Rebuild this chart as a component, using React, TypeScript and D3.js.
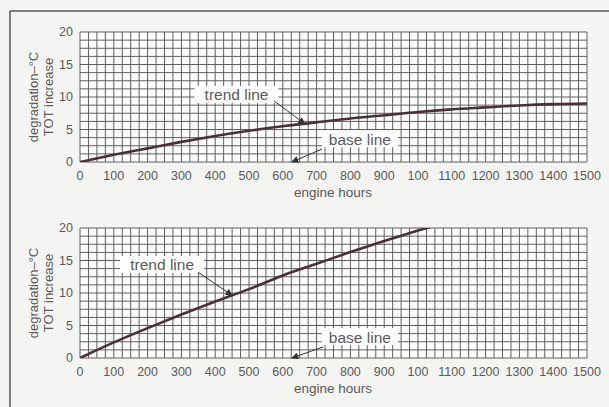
import * as d3 from "d3";

// engine hours along the x axis
const hours = [0, 100, 200, 300, 400, 500, 600, 700, 800, 900, 1000, 1100, 1200, 1300, 1400, 1500];
// tick labels as printed (the "100" at 1000 is in the original)
const xTickLabels = ["0", "100", "200", "300", "400", "500", "600", "700", "800", "900", "100", "1100", "1200", "1300", "1400", "1500"];
const yTicks = [0, 5, 10, 15, 20];

// TOT increase (degradation, deg C)
const slowTrend = [0, 1.1, 2.1, 3.1, 4.0, 4.8, 5.5, 6.1, 6.7, 7.2, 7.7, 8.1, 8.4, 8.7, 8.9, 9.0];
const fastHours = [0, 100, 200, 300, 400, 500, 600, 700, 800, 900, 1000, 1100];
const fastTrend = [0, 2.4, 4.6, 6.7, 8.7, 10.6, 12.7, 14.5, 16.3, 18.0, 19.6, 21.1];

const W = 609;
const H = 407;
const textColor = "#5a5a5a";
const curveColor = "#4d2e3a";
const font = "'Liberation Sans', Arial, sans-serif";

type Note = { text: string; lx: number; ly: number; sx: number; sy: number; tx: number; ty: number | null };

function Panel({ top, bottom, xs, vs, notes, id }: { top: number; bottom: number; xs: number[]; vs: number[]; notes: Note[]; id: string }) {
  const x = d3.scaleLinear().domain([0, 1500]).range([80, 587]);
  const y = d3.scaleLinear().domain([0, 20]).range([bottom, top]);

  const pts: [number, number][] = xs.map((h, i) => [h, vs[i]]);
  const line = d3
    .line<[number, number]>()
    .x((d) => x(d[0]))
    .y((d) => y(d[1]))
    .curve(d3.curveMonotoneX);
  const interp = (h: number) => {
    const i = d3.bisectRight(xs, h) - 1;
    const t = (h - xs[i]) / (xs[i + 1] - xs[i]);
    return vs[i] + t * (vs[i + 1] - vs[i]);
  };

  // grid: 4 columns per 100 hours, 4 rows per 5 deg
  const cols = d3.range(0, 1500 + 0.01, 25);
  const rows = d3.range(0, 20 + 0.01, 1.25);

  return (
    <g>
      <defs>
        <clipPath id={"clip" + id}>
          <rect x={x(0)} y={y(20)} width={x(1500) - x(0)} height={y(0) - y(20)} />
        </clipPath>
      </defs>
      <rect x={x(0)} y={y(20)} width={x(1500) - x(0)} height={y(0) - y(20)} fill="#fff" />
      {cols.map((c, i) => (
        <line key={"c" + i} x1={x(c)} x2={x(c)} y1={y(0)} y2={y(20)} stroke="#5e5e5e" strokeWidth={1} />
      ))}
      {rows.map((r, i) => (
        <line key={"r" + i} x1={x(0)} x2={x(1500)} y1={y(r)} y2={y(r)} stroke="#5e5e5e" strokeWidth={1} />
      ))}
      {yTicks.map((t) => (
        <text key={t} x={73} y={y(t)} dy="0.35em" textAnchor="end" fontSize={12.5} fill={textColor} fontFamily={font}>
          {t}
        </text>
      ))}
      {hours.map((h, i) => (
        <text key={h} x={x(h)} y={bottom + 14} dy="0.35em" textAnchor="middle" fontSize={12.5} fill={textColor} fontFamily={font}>
          {xTickLabels[i]}
        </text>
      ))}
      <text x={333} y={bottom + 30} dy="0.35em" textAnchor="middle" fontSize={13.5} fill={textColor} fontFamily={font}>
        engine hours
      </text>
      <g transform={`translate(33,${(top + bottom) / 2}) rotate(-90)`}>
        <text textAnchor="middle" dy="0.35em" fontSize={13} fill={textColor} fontFamily={font}>
          degradation–°C
        </text>
      </g>
      <g transform={`translate(48,${(top + bottom) / 2}) rotate(-90)`}>
        <text textAnchor="middle" dy="0.35em" fontSize={13} fill={textColor} fontFamily={font}>
          TOT increase
        </text>
      </g>
      <path d={line(pts) || ""} fill="none" stroke={curveColor} strokeWidth={2.6} clipPath={`url(#clip${id})`} />
      {notes.map((n, i) => {
        const tipY = n.ty === null ? interp(n.tx) : n.ty;
        const w = n.text.length * 7.6;
        return (
          <g key={i}>
            <rect x={x(n.lx) - w / 2 - 4} y={y(n.ly) - 9} width={w + 8} height={17} fill="#fff" />
            <text x={x(n.lx)} y={y(n.ly)} dy="0.35em" textAnchor="middle" fontSize={15.5} fill={textColor} fontFamily={font}>
              {n.text}
            </text>
            <line x1={x(n.sx)} y1={y(n.sy)} x2={x(n.tx)} y2={y(tipY)} stroke="#333" strokeWidth={1} markerEnd="url(#arrow)" />
          </g>
        );
      })}
    </g>
  );
}

export default function App() {
  const topNotes: Note[] = [
    { text: "trend line", lx: 463, ly: 10.3, sx: 574, sy: 9.4, tx: 665, ty: null },
    { text: "base line", lx: 828, ly: 3.5, sx: 716, sy: 2.0, tx: 627, ty: 0 },
  ];
  const bottomNotes: Note[] = [
    { text: "trend line", lx: 243, ly: 14.3, sx: 349, sy: 13.2, tx: 450, ty: null },
    { text: "base line", lx: 828, ly: 3.2, sx: 719, sy: 1.7, tx: 627, ty: 0 },
  ];
  return (
    <svg width={W} height={H} style={{ position: "absolute", left: 0, top: 0, display: "block" }}>
      <defs>
        <marker id="arrow" viewBox="0 0 10 10" refX={9} refY={5} markerWidth={8} markerHeight={7} orient="auto" markerUnits="userSpaceOnUse">
          <path d="M0,0 L10,5 L0,10 z" fill="#333" />
        </marker>
      </defs>
      <rect width={W} height={H} fill="#f4f4f2" />
      <line x1={10} y1={11} x2={W} y2={11} stroke="#555" strokeWidth={1.5} />
      <line x1={10} y1={11} x2={10} y2={H} stroke="#555" strokeWidth={1.5} />
      <Panel id="a" top={32} bottom={162} xs={hours} vs={slowTrend} notes={topNotes} />
      <Panel id="b" top={228} bottom={358} xs={fastHours} vs={fastTrend} notes={bottomNotes} />
    </svg>
  );
}
